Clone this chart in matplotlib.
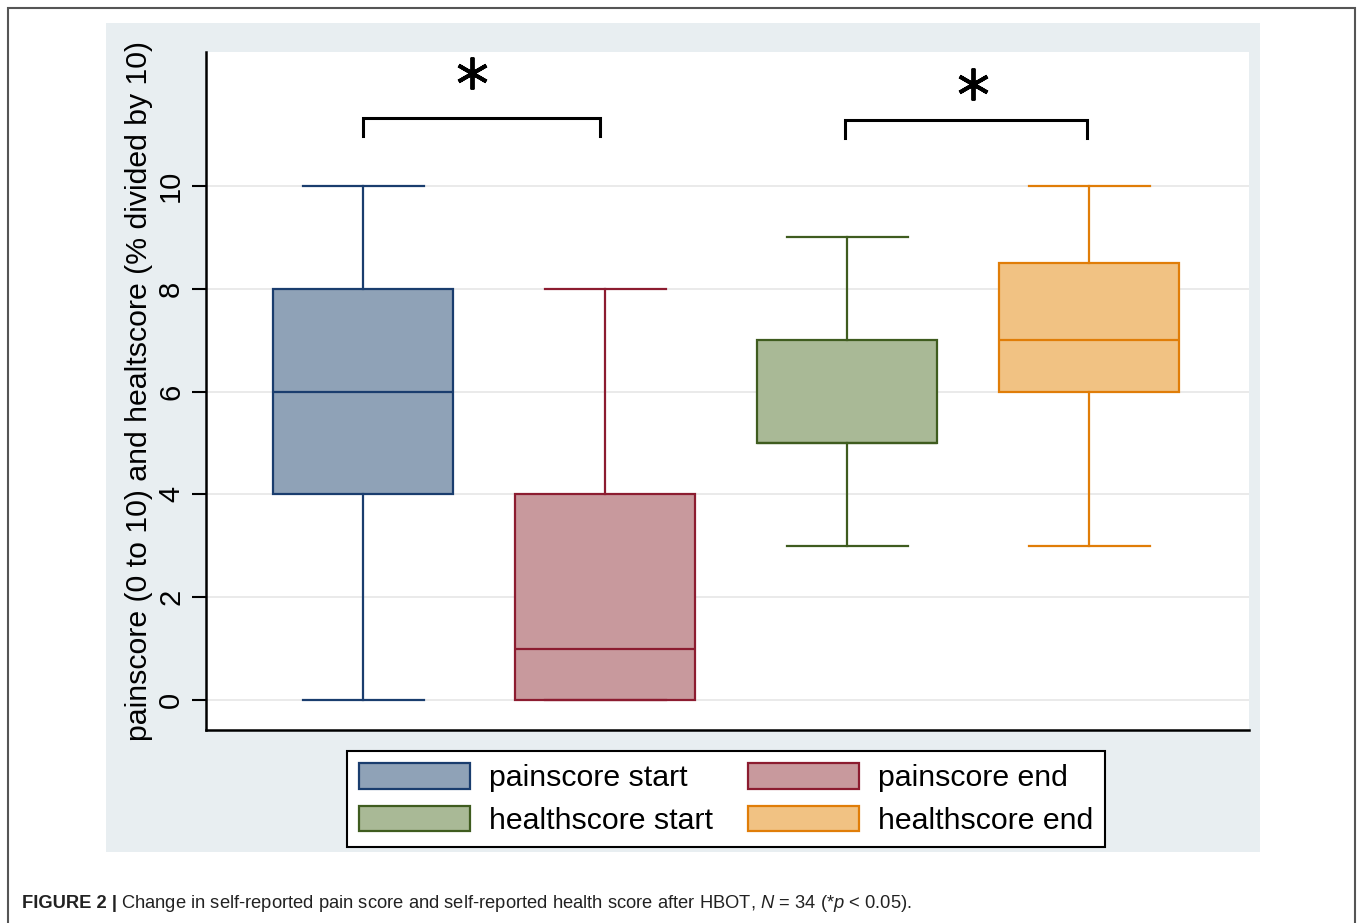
import matplotlib.pyplot as plt
from matplotlib.patches import Rectangle, Patch

plt.rcParams['font.family'] = ['Liberation Sans', 'DejaVu Sans']
plt.rcParams['mathtext.fontset'] = 'custom'
plt.rcParams['mathtext.it'] = 'Liberation Sans:italic'
plt.rcParams['mathtext.rm'] = 'Liberation Sans'

# box summaries
labels = ['painscore start', 'painscore end', 'healthscore start', 'healthscore end']
whislo = [0, 0, 3, 3]
q1 = [4, 0, 5, 6]
med = [6, 1, 5, 7]
q3 = [8, 4, 7, 8.5]
whishi = [10, 8, 9, 10]
fills = ['#8fa2b7', '#c8999d', '#a9b996', '#f1c283']
edges = ['#1a3d6e', '#8c1c30', '#3f5c1f', '#e07d08']

# significance brackets
bracket_x = [(1, 1.98), (2.99, 3.99)]
bracket_y = [11.32, 11.28]
bracket_drop = 0.35
star_x = [1.45, 3.52]
star_y = [12.2, 11.98]

fig = plt.figure(figsize=(13.58, 9.23), dpi=100)

# outer frame and grey panel
fig.patches.append(Rectangle((8 / 1358, -0.01), 1347 / 1358, 1 - 8 / 923 + 0.01,
                             transform=fig.transFigure, fill=False,
                             edgecolor='#555555', linewidth=1.5, zorder=-5))
fig.patches.append(Rectangle((106 / 1358, 71 / 923), 1154 / 1358, 829 / 923,
                             transform=fig.transFigure, facecolor='#e8eef1',
                             edgecolor='none', zorder=-5))

ax = fig.add_axes([206 / 1358, 193 / 923, 1043 / 1358, 678 / 923])
ax.set_facecolor('white')

stats = []
for i in range(4):
    stats.append({'label': labels[i], 'whislo': whislo[i], 'q1': q1[i], 'med': med[i],
                  'q3': q3[i], 'whishi': whishi[i], 'fliers': []})

positions = [1, 2, 3, 4]
bp = ax.bxp(stats, positions=positions, widths=0.745, patch_artist=True,
            showfliers=False, capwidths=0.5)
for i in range(4):
    bp['boxes'][i].set(facecolor=fills[i], edgecolor=edges[i], linewidth=1.6)
    bp['medians'][i].set(color=edges[i], linewidth=1.6)
    for ln in bp['whiskers'][2 * i:2 * i + 2] + bp['caps'][2 * i:2 * i + 2]:
        ln.set(color=edges[i], linewidth=1.6)

# brackets and stars
for (x0, x1), y in zip(bracket_x, bracket_y):
    ax.plot([x0, x0, x1, x1], [y - bracket_drop, y, y, y - bracket_drop],
            color='black', linewidth=2.2, solid_joinstyle='miter', clip_on=False)
for x, y in zip(star_x, star_y):
    ax.plot(x, y, marker=(6, 2, 0), markersize=23, markeredgewidth=2.8,
            color='black', linestyle='none', clip_on=False)

ax.set_xlim(0.351, 4.661)
ax.set_ylim(-0.58, 12.6)
ax.set_yticks([0, 2, 4, 6, 8, 10])
ax.yaxis.grid(True, color='#e6e6e6', linewidth=1.2)
ax.set_axisbelow(True)
ax.set_xticks([])
for s in ['top', 'right']:
    ax.spines[s].set_visible(False)
for s in ['left', 'bottom']:
    ax.spines[s].set_linewidth(1.8)
ax.tick_params(axis='y', length=10, width=1.5, labelsize=21, pad=5)
for t in ax.get_yticklabels():
    t.set_rotation(90)
    t.set_va('center')
ax.set_ylabel('painscore (0 to 10) and healtscore (% divided by 10)', fontsize=21.8,
              labelpad=3)

# legend fills column by column, so reorder to get row-wise layout
order = [0, 2, 1, 3]
handles = [Patch(facecolor=fills[i], edgecolor=edges[i], linewidth=1.6) for i in order]
leg = fig.legend(handles, [labels[i] for i in order], ncol=2, loc='center',
                 bbox_to_anchor=(726 / 1358, 1 - 799 / 923), fontsize=21.8,
                 frameon=True, fancybox=False, edgecolor='black', framealpha=1,
                 handlelength=3.66, handleheight=0.92, handletextpad=0.63,
                 columnspacing=1.15, labelspacing=0.45, borderpad=0.4)
leg.get_frame().set_linewidth(1.5)
leg.get_frame().set_facecolor('white')

# caption
fig.text(22 / 1358, 1 - 903 / 923, 'FIGURE 2 |', fontsize=13.2, fontweight='bold',
         va='center', ha='left', color='#222222')
fig.text(121 / 1358, 1 - 903 / 923,
         'Change in self-reported pain score and self-reported health score after HBOT, '
         '$N$ = 34 (*$p$ < 0.05).', fontsize=13.2, va='center', ha='left', color='#222222')

fig.savefig('out.png', dpi=100)
